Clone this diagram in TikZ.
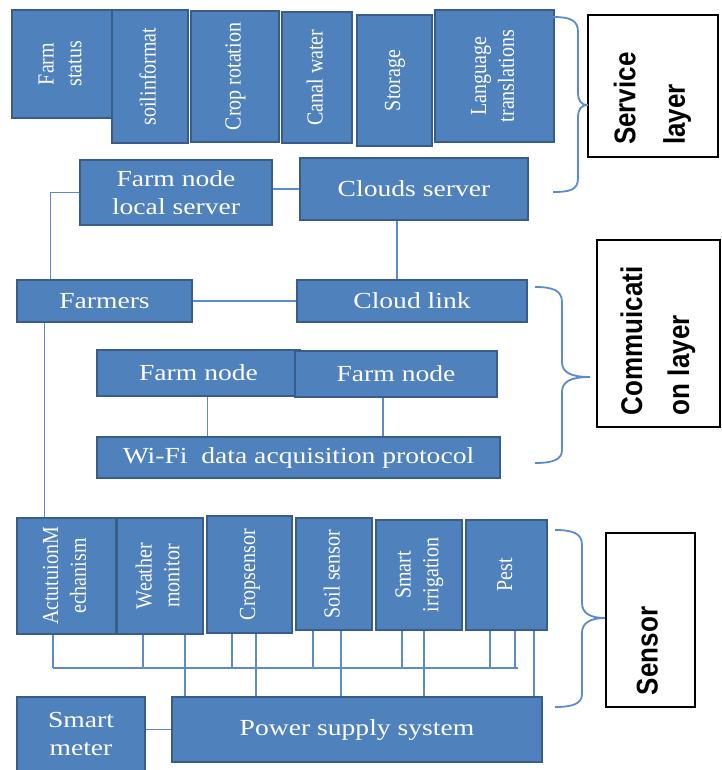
\documentclass[tikz,border=0pt]{standalone}
\usepackage{fontspec}
\usepackage{graphicx}
\setmainfont{Liberation Serif}
\newfontfamily\boxfont[FakeStretch=1.2]{Liberation Serif}
\newfontfamily\labelfont{Liberation Sans}
\definecolor{boxfill}{HTML}{4F81BD}
\definecolor{boxline}{HTML}{385D8A}
\definecolor{wireblue}{HTML}{5B8BCB}
\newcommand\vtext[1]{\rotatebox{90}{\scalebox{1}[1.15]{\begin{tabular}{@{}c@{}}#1\end{tabular}}}}
\newcommand\ltext[2]{\makebox[#1][l]{\scalebox{1}[1.15]{\begin{tabular}{@{}l@{}}#2\end{tabular}}}}

\begin{document}
\begin{tikzpicture}
[x=1pt,y=-1pt]
\tikzstyle{blue box}=[rectangle,draw=boxline,fill=boxfill,line width=2.5,text=white,inner sep=0,align=center,font=\boxfont\fontsize{23}{28}\selectfont]
\tikzstyle{blue vbox}=[blue box,font=\fontsize{20}{24}\selectfont]
\tikzstyle{layer box}=[rectangle,draw=black,fill=white,line width=1.5,rotate=90,inner sep=0,font=\labelfont\bfseries\fontsize{26}{31}\selectfont]
\tikzstyle{wire}=[draw=wireblue,line width=1.5]
\tikzstyle{brace line}=[draw=wireblue,line width=1.8]

\useasboundingbox (0,0) rectangle (721,770);

% service layer
\node(fs)[blue vbox,minimum width=100,minimum height=108]at(62,64){\vtext{Farm\\status}};
\node(si)[blue vbox,minimum width=76,minimum height=133]at(150,76.5){\vtext{soilinformat}};
\node(cr)[blue vbox,minimum width=88,minimum height=131]at(235,76.5){\vtext{Crop rotation}};
\node(cw)[blue vbox,minimum width=70,minimum height=131]at(317,77.5){\vtext{Canal water}};
\node(st)[blue vbox,minimum width=75,minimum height=131]at(394.5,80.5){\vtext{Storage}};
\node(lt)[blue vbox,minimum width=119,minimum height=132]at(494.5,76){\vtext{Language\\translations}};
\node(svc)[layer box,minimum width=142,minimum height=130]at(653,86){\ltext{118pt}{Service\\[12pt]layer}};

\node(fnls)[blue box,minimum width=192,minimum height=65]at(176,192.5){Farm node\\local server};
\node(cs)[blue box,minimum width=228,minimum height=62]at(414,189){Clouds server};

% communication layer
\node(fa)[blue box,minimum width=175,minimum height=42]at(104.5,301){Farmers};
\node(cl)[blue box,minimum width=230,minimum height=42]at(412,301){Cloud link};
\node(fn1)[blue box,minimum width=203,minimum height=46]at(198.5,373){Farm node};
\node(fn2)[blue box,minimum width=202,minimum height=46]at(396,374){Farm node};
\node(wifi)[blue box,minimum width=403,minimum height=41]at(298.5,457.5){Wi-Fi \ data acquisition protocol};
\node(cml)[layer box,minimum width=187,minimum height=123]at(658.5,333.5){\ltext{163pt}{Commuicati\\[10pt]on layer}};

% sensor layer
\node(act)[blue vbox,minimum width=99,minimum height=116]at(66.5,576){\vtext{ActutuionM\\echanism}};
\node(wea)[blue vbox,minimum width=86,minimum height=116]at(160,576){\vtext{Weather\\monitor}};
\node(crs)[blue vbox,minimum width=85,minimum height=117]at(249.5,574.5){\vtext{Cropsensor}};
\node(sos)[blue vbox,minimum width=76,minimum height=112]at(334,574){\vtext{Soil sensor}};
\node(smi)[blue vbox,minimum width=86,minimum height=110]at(419,575){\vtext{Smart\\irrigation}};
\node(pst)[blue vbox,minimum width=81,minimum height=110]at(506.5,575){\vtext{Pest}};
\node(sen)[layer box,minimum width=174,minimum height=89]at(650.5,620){\ltext{150pt}{Sensor}};
\node(sm)[blue box,minimum width=128,minimum height=74]at(81,734){Smart\\meter};
\node(psu)[blue box,minimum width=370,minimum height=65]at(357,729.5){Power supply system};

\draw[wire] (cs.west) -- (cs.west -| fnls.east);
\draw[wire] ([xshift=-54]fa.north) |- (fnls.west);
\draw[wire] (fa.east) -- (cl.west);
\draw[wire] ([xshift=-17]cs.south) -- ([xshift=-17]cs.south |- cl.north);
\draw[wire] ([xshift=9]fn1.south) -- ([xshift=9]fn1.south |- wifi.north);
\draw[wire] ([xshift=-13]fn2.south) -- ([xshift=-13]fn2.south |- wifi.north);
\draw[wire] ([xshift=-60]fa.south) -- ([xshift=-60]fa.south |- act.north);
\draw[wire] (psu.west) -- (psu.west -| sm.east);

\coordinate(bus w) at (53,668);
\coordinate(bus e) at (518,668);
\draw[wire] (bus w) -- (bus e);
\foreach \n/\x in {act/53,wea/143,crs/232,sos/313,smi/402,pst/490,pst/515}
  \draw[wire] (\n.south -| \x,0) -- (\x,0 |- bus w);
\foreach \n/\x in {wea/185,crs/256,sos/341,smi/424,pst/534}
  \draw[wire] (\n.south -| \x,0) -- (\x,0 |- psu.north);

\draw[brace line] (553,17) .. controls (570,17) and (578,20) .. (578,32) -- (578,92) .. controls (578,101) and (581,105) .. (588,105) .. controls (581,105) and (578,109) .. (578,118) -- (578,178) .. controls (578,190) and (570,192) .. (553,192);
\draw[brace line] (535,287) .. controls (552,287) and (562,290) .. (562,302) -- (562,362) .. controls (562,372) and (570,377) .. (590,377) .. controls (570,377) and (562,382) .. (562,392) -- (562,450) .. controls (562,460) and (552,463) .. (535,463);
\draw[brace line] (555,530) .. controls (572,530) and (582,533) .. (582,545) -- (582,603) .. controls (582,613) and (590,618) .. (605,618) .. controls (590,618) and (582,623) .. (582,633) -- (582,694) .. controls (582,704) and (572,707) .. (555,707);
\end{tikzpicture}
\end{document}
